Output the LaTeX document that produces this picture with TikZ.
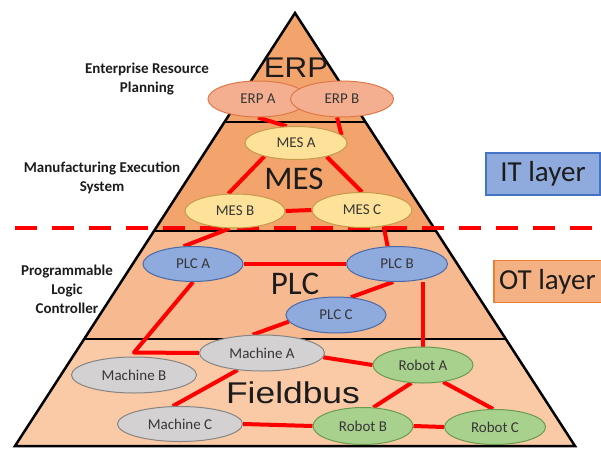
\documentclass[tikz,border=0pt]{standalone}
\usepackage{fontspec}
\setmainfont{Carlito}
\newfontfamily\erpface[FakeStretch=1.1]{Liberation Sans}
\newfontfamily\fieldface[FakeStretch=1.18]{Liberation Sans}
\usetikzlibrary{shapes.geometric}

\pgfdeclarelayer{base}
\pgfdeclarelayer{wires}
\pgfsetlayers{base,wires,main}

% layer fills
\definecolor{erpLayer}{HTML}{F2A46C}
\definecolor{mesLayer}{HTML}{F2A46C}
\definecolor{plcLayer}{HTML}{F7B990}
\definecolor{busLayer}{HTML}{FAC9A5}
% node fills and borders
\definecolor{erpFill}{HTML}{F4AE90}
\definecolor{erpLine}{HTML}{E07848}
\definecolor{mesFill}{HTML}{FFE29A}
\definecolor{mesLine}{HTML}{C59A4A}
\definecolor{plcFill}{HTML}{8FAADC}
\definecolor{plcLine}{HTML}{4A6AA5}
\definecolor{macFill}{HTML}{D3D1D1}
\definecolor{macLine}{HTML}{858585}
\definecolor{robFill}{HTML}{A9D18E}
\definecolor{robLine}{HTML}{6A9A50}
\definecolor{itFill}{HTML}{8FAADC}
\definecolor{itLine}{HTML}{4472C4}
\definecolor{otFill}{HTML}{F4B183}
\definecolor{otLine}{HTML}{ED7D31}
\definecolor{inkDark}{HTML}{1C1C1C}
\definecolor{inkNode}{HTML}{363636}

\begin{document}
\begin{tikzpicture}[x=1pt,y=-1pt,
  unit/.style={ellipse, inner sep=0pt, line width=1pt, text=inkNode,
    font=\fontsize{15}{18}\selectfont, minimum width=100pt, minimum height=35pt},
  erpnode/.style={unit, fill=erpFill, draw=erpLine},
  mesnode/.style={unit, fill=mesFill, draw=mesLine},
  plcnode/.style={unit, fill=plcFill, draw=plcLine},
  macnode/.style={unit, fill=macFill, draw=macLine, minimum width=125pt},
  robnode/.style={unit, fill=robFill, draw=robLine},
  wire/.style={draw=red, line width=4pt, line join=round},
  tierline/.style={draw=black, line width=2.5pt},
  sidelabel/.style={align=center, text=inkDark,
    font=\bfseries\fontsize{15}{19}\selectfont},
  layerbox/.style={draw, line width=1.5pt, minimum height=42pt, inner sep=0pt,
    text=inkDark, font=\fontsize{29}{32}\selectfont}
]
\useasboundingbox (0,0) rectangle (601,449);
\clip (0,0) rectangle (601,449);

% pyramid corners and tier boundaries
\coordinate (apex) at (295,13);
\coordinate (l1) at (224.5,122); \coordinate (r1) at (365.5,122);
\coordinate (l2) at (154,231);   \coordinate (r2) at (436,231);
\coordinate (l3) at (84.2,339);  \coordinate (r3) at (505.8,339);
\coordinate (l4) at (15,446);    \coordinate (r4) at (575,446);

\begin{pgfonlayer}{base}
  \fill[erpLayer] (apex) -- (r1) -- (l1) -- cycle;
  \fill[mesLayer] (l1) -- (r1) -- (r2) -- (l2) -- cycle;
  \fill[plcLayer] (l2) -- (r2) -- (r3) -- (l3) -- cycle;
  \fill[busLayer] (l3) -- (r3) -- (r4) -- (l4) -- cycle;
  \draw[tierline, line join=miter] (l4) -- (apex) -- (r4) -- cycle;
  \draw[tierline] (l1) -- (r1);
  \draw[tierline] (l2) -- (r2);
  \draw[tierline] (l3) -- (r3);
\end{pgfonlayer}

% tier titles
\node[text=inkDark, font=\erpface\fontsize{28.5}{30}\selectfont] (tERP) at (296,68) {ERP};
\node[text=inkDark, font=\fontsize{33}{36}\selectfont] (tMES) at (294,179) {MES};
\node[text=inkDark, font=\fontsize{33}{36}\selectfont] (tPLC) at (295,284) {PLC};
\node[text=inkDark, font=\fieldface\fontsize{30}{33}\selectfont] (tBUS) at (293,393) {Fieldbus};

% side descriptions
\node[sidelabel] (dERP) at (147,79) {Enterprise Resource\\Planning};
\node[sidelabel] (dMES) at (102,178) {Manufacturing Execution\\System};
\node[sidelabel] (dPLC) at (67,289) {Programmable\\Logic\\Controller};

% IT / OT tags
\node[layerbox, fill=itFill, draw=itLine, minimum width=114pt] (itTag) at (543,174) {IT layer};
\node[layerbox, fill=otFill, draw=otLine, minimum width=122pt, anchor=west] (otTag) at (493,281.5) {};
\node[text=inkDark, font=\fontsize{29}{32}\selectfont, anchor=west, inner sep=0pt]
  (otText) at (499,281.5) {OT layer};

% devices
\node[erpnode, minimum height=36pt] (erpA) at (258,99) {ERP A};
\node[erpnode, minimum height=36pt, minimum width=103pt] (erpB) at (342,99) {ERP B};

\node[mesnode, minimum width=102pt, minimum height=33pt] (mesA) at (296,143) {MES A};
\node[mesnode, minimum height=34pt] (mesB) at (235,211) {MES B};
\node[mesnode] (mesC) at (362,210) {MES C};

\node[plcnode] (plcA) at (193,264) {PLC A};
\node[plcnode, minimum width=101pt] (plcB) at (397,264) {PLC B};
\node[plcnode, minimum height=36pt] (plcC) at (336,315) {PLC C};

\node[macnode, minimum height=36pt] (macA) at (262,353) {Machine A};
\node[macnode, minimum height=36pt] (macB) at (134,375) {Machine B};
\node[macnode] (macC) at (180,424) {Machine C};

\node[robnode, minimum height=36pt] (robA) at (423,365) {Robot A};
\node[robnode, minimum height=37pt] (robB) at (363,426) {Robot B};
\node[robnode, minimum width=101pt] (robC) at (495,427) {Robot C};

% IT / OT separator
\coordinate (sepL) at (15,228);
\coordinate (sepR) at (601,228);
\coordinate (bendB) at ([yshift=4pt]macB.north);

\begin{pgfonlayer}{wires}
  \draw[draw=red, line width=4pt, dash pattern=on 22pt off 15pt] (sepL) -- (sepR);

  \draw[wire] (erpA.south) -- (mesA.119);
  \draw[wire] (erpB.255) -- (mesA.10);
  \draw[wire] (mesA.203) -- (mesB.111);
  \draw[wire] (mesA.336) -- (mesC.north);
  \draw[wire] (mesB.east) -- (mesC.west);
  \draw[wire] (mesB.253) -- (plcA.118);
  \draw[wire] (mesC.323) -- (plcB.118);

  \draw[wire] (plcA.east) -- (plcB.west);
  \draw[wire] (plcB.258) -- (plcC.50);
  \draw[wire] (plcB.south -| robA.north) -- (robA.north);
  \draw[wire] (plcA.south) -- (bendB) -- (macA.west);
  \draw[wire] (plcC.188) -- (macA.117);

  \draw[wire] (macA.215) -- (macC.112);
  \draw[wire] (macA.356) -- (robA.west);
  \draw[wire] (macC.east) -- (robB.west);
  \draw[wire] (robA.237) -- (robB.61);
  \draw[wire] (robA.320) -- (robC.96);
  \draw[wire] (robB.east) -- (robC.west);
\end{pgfonlayer}
\end{tikzpicture}
\end{document}
